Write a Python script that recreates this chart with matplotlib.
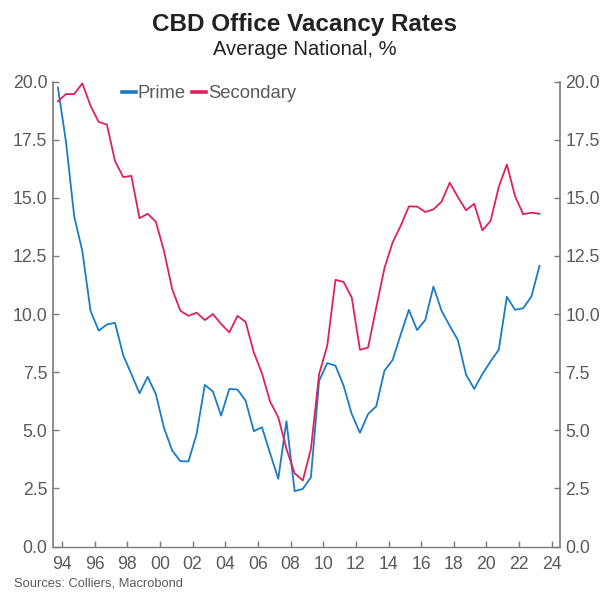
import matplotlib
matplotlib.use("Agg")
import matplotlib.pyplot as plt
import pandas as pd
import datetime as dt

plt.rcParams['font.family'] = ['Liberation Sans', 'DejaVu Sans']

# Half-yearly observations, starting late 1993
dates = pd.date_range('1993-10-01', periods=60, freq='6MS')

prime = [19.75, 17.4, 14.2, 12.71, 10.14, 9.28, 9.55, 9.62, 8.23, 7.42,
         6.59, 7.3, 6.56, 5.1, 4.13, 3.67, 3.66, 4.85, 6.95, 6.66,
         5.63, 6.78, 6.75, 6.27, 4.96, 5.13, 4.01, 2.91, 5.39, 2.38,
         2.48, 2.98, 7.13, 7.89, 7.78, 6.92, 5.7, 4.89, 5.7, 6.03,
         7.56, 8.02, 9.12, 10.18, 9.31, 9.74, 11.18, 10.14, 9.49, 8.88,
         7.39, 6.78, 7.42, 7.96, 8.46, 10.74, 10.18, 10.25, 10.75, 12.07]

secondary = [19.15, 19.46, 19.46, 19.92, 18.96, 18.26, 18.15, 16.58, 15.89, 15.94,
             14.12, 14.31, 13.97, 12.71, 11.07, 10.14, 9.92, 10.06, 9.74, 10.0,
             9.57, 9.21, 9.92, 9.66, 8.35, 7.45, 6.23, 5.56, 4.2, 3.15,
             2.84, 4.2, 7.42, 8.64, 11.47, 11.38, 10.71, 8.46, 8.56, 10.28,
             11.97, 13.07, 13.8, 14.63, 14.62, 14.39, 14.5, 14.83, 15.65, 15.03,
             14.46, 14.74, 13.6, 14.0, 15.46, 16.43, 15.07, 14.29, 14.36, 14.31]

tick_years = list(range(1994, 2025, 2))
tick_labels = [f"{y % 100:02d}" for y in tick_years]
y_ticks = [0.0, 2.5, 5.0, 7.5, 10.0, 12.5, 15.0, 17.5, 20.0]

c_prime = '#1c7bc6'
c_sec = '#e0215c'
grey = '#5a5a5a'
spine_c = '#7a7a7a'

fig = plt.figure(figsize=(6.1, 5.95), dpi=100)
ax = fig.add_axes([0.0869, 0.0815, 0.8311, 0.7815])

ax.plot(dates, prime, color=c_prime, lw=1.3, label='Prime')
ax.plot(dates, secondary, color=c_sec, lw=1.3, label='Secondary')

ax.set_ylim(0, 20)
ax.set_xlim(dt.datetime(1993, 6, 14), dt.datetime(2024, 7, 2))
ax.set_yticks(y_ticks)
ax.set_yticklabels([f"{v:.1f}" for v in y_ticks])
ax.set_xticks([dt.datetime(y, 1, 1) for y in tick_years])
ax.set_xticklabels(tick_labels)

ax.spines['top'].set_visible(False)
for s in ['left', 'right', 'bottom']:
    ax.spines[s].set_color(spine_c)
    ax.spines[s].set_linewidth(1.2)
ax.spines['bottom'].set_linewidth(1.0)

ax.tick_params(axis='both', direction='in', colors=spine_c, labelcolor=grey,
               labelsize=12.7, length=4, width=1.0)
ax.tick_params(axis='y', left=True, right=True, labelleft=True, labelright=True, pad=4)
ax.tick_params(axis='x', pad=7)

leg = ax.legend(loc='upper left', bbox_to_anchor=(0.121, 1.008), ncol=2, frameon=False,
                fontsize=13.3, handlelength=0.75, handletextpad=0.1, columnspacing=0.35,
                borderaxespad=0.0)
for h in leg.get_lines():
    h.set_linewidth(2.6)
for t in leg.get_texts():
    t.set_color(grey)

fig.text(0.5, 0.958, 'CBD Office Vacancy Rates', ha='center', va='center',
         fontsize=17.5, fontweight='bold', color='#222222')
fig.text(0.5, 0.917, 'Average National, %', ha='center', va='center',
         fontsize=14.5, color='#222222')
fig.text(0.023, 0.019, 'Sources: Colliers, Macrobond', ha='left', va='center',
         fontsize=9.3, color=grey)

fig.savefig('out.png', dpi=100)
